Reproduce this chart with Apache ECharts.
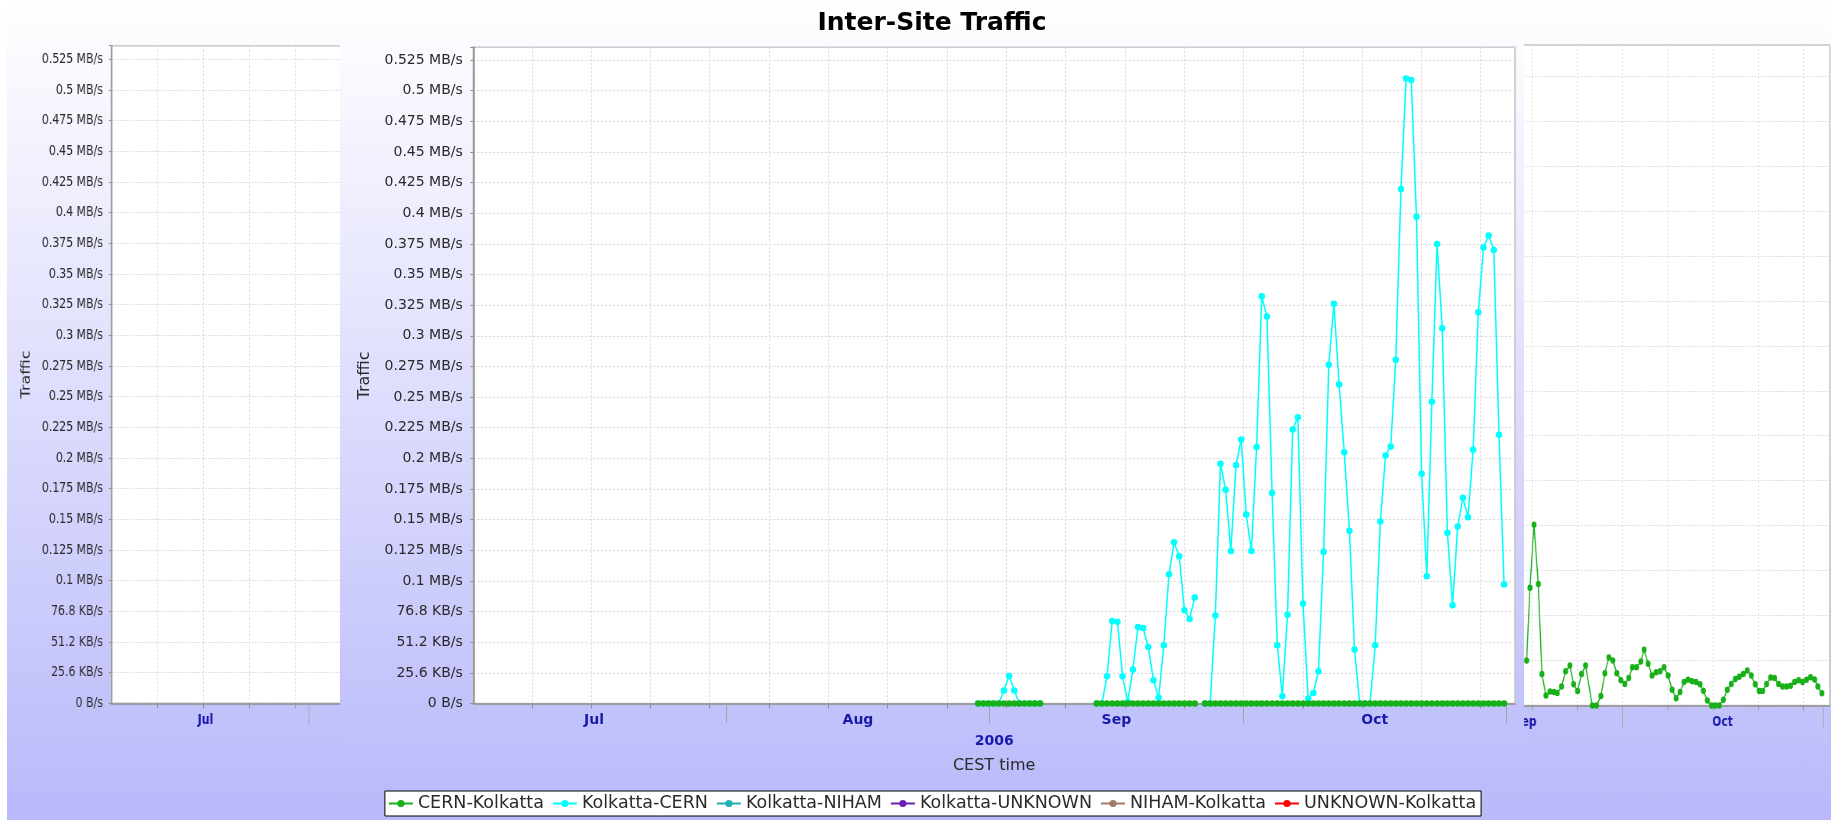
<!DOCTYPE html>
<html>
<head>
<meta charset="utf-8">
<script src="https://cdn.jsdelivr.net/npm/echarts@6/dist/echarts.min.js"></script>
<style>
html,body{margin:0;padding:0;background:#ffffff;width:1831px;height:820px;overflow:hidden;}
.clip{position:absolute;top:0;height:820px;overflow:hidden;}
.chart{position:absolute;top:0;height:820px;width:1184px;transform-origin:0 0;}
</style>
</head>
<body>
<!-- three overlapping captures of the same chart: a horizontally squeezed copy on the left,
     the full chart in the middle, and a squeezed CERN-Kolkatta-only copy on the right -->
<div class="clip" style="left:7px;width:333px"><div id="leftChart" class="chart" style="left:0;transform:scaleX(0.7813)"></div></div>
<div class="clip" style="left:340px;width:1184px"><div id="mainChart" class="chart" style="left:0"></div></div>
<div class="clip" style="left:1524px;width:307px"><div id="rightChart" class="chart" style="left:-592.4px;transform:scaleX(0.764)"></div></div>
<script>
// ---------------- DATA ----------------
// x values are days since 2006-07-01 00:00 (Jul 9 = 8, Aug 1 = 31, Sep 1 = 62, Oct 1 = 92, Nov 1 = 123)
const chartTitle = 'Inter-Site Traffic';
const seriesNames = ['CERN-Kolkatta', 'Kolkatta-CERN', 'Kolkatta-NIHAM', 'Kolkatta-UNKNOWN', 'NIHAM-Kolkatta', 'UNKNOWN-Kolkatta'];
const seriesColors = ['#18b018', '#00ffff', '#1fb0b0', '#6a1fb0', '#a07c66', '#ff0000'];

const monthNames = ['Jul', 'Aug', 'Sep', 'Oct'];
const monthLabelDays = [15.35, 46.5, 77, 107.5];
const monthStartDays = [31, 62, 92, 123];
const weekTickDays = [8, 15, 22, 29, 36, 43, 50, 57, 64, 71, 78, 85, 92, 99, 106, 113, 120];
const yearLabel = '2006';

const yTickLabels = ['0 B/s', '25.6 KB/s', '51.2 KB/s', '76.8 KB/s', '0.1 MB/s', '0.125 MB/s', '0.15 MB/s',
  '0.175 MB/s', '0.2 MB/s', '0.225 MB/s', '0.25 MB/s', '0.275 MB/s', '0.3 MB/s', '0.325 MB/s', '0.35 MB/s',
  '0.375 MB/s', '0.4 MB/s', '0.425 MB/s', '0.45 MB/s', '0.475 MB/s', '0.5 MB/s', '0.525 MB/s'];

// sample times (days) of the main chart series; null values are missing samples (gaps)
const sampleDays = [
  60.69, 61.30, 61.90, 62.51, 63.12, 63.73, 64.34, 64.95, 65.56, 66.16, 66.77, 67.38, 67.99, 68.60,
  74.68, 75.29, 75.90, 76.51, 77.12, 77.73, 78.34, 78.95, 79.55, 80.16, 80.77, 81.38, 81.99, 82.60,
  83.21, 83.81, 84.42, 85.03, 85.64, 86.25, 86.86, 87.47, 88.07, 88.68, 89.29, 89.90, 90.51, 91.12,
  91.73, 92.33, 92.94, 93.55, 94.16, 94.77, 95.38, 95.99, 96.59, 97.20, 97.81, 98.42, 99.03, 99.64,
  100.25, 100.85, 101.46, 102.07, 102.68, 103.29, 103.90, 104.51, 105.11, 105.72, 106.33, 106.94, 107.55,
  108.16, 108.77, 109.38, 109.98, 110.59, 111.20, 111.81, 112.42, 113.03, 113.64, 114.24, 114.85, 115.46,
  116.07, 116.68, 117.29, 117.90, 118.50, 119.11, 119.72, 120.33, 120.94, 121.55, 122.16, 122.76
];
// Kolkatta-CERN traffic, MB/s
const kolkattaCern = [
  0, 0, 0, 0, 0, 0.0106, 0.0225, 0.0106, 0, 0, 0, 0, 0, null,
  0, 0, 0.0223, 0.0673, 0.0668, 0.0223, 0.0015, 0.0277, 0.0624, 0.0616, 0.0461, 0.0190, 0.0046, 0.0475,
  0.1054, 0.1315, 0.1201, 0.0761, 0.0690, 0.0864, null, 0, 0, 0.0717, 0.1956, 0.1744, 0.1244, 0.1945,
  0.2155, 0.1543, 0.1244, 0.2092, 0.3323, 0.3157, 0.1717, 0.0475, 0.0060, 0.0725, 0.2236, 0.2336, 0.0815, 0.0041,
  0.0086, 0.0263, 0.1239, 0.2764, 0.3261, 0.2603, 0.2049, 0.1410, 0.0440, 0, 0, 0, 0.0475,
  0.1484, 0.2024, 0.2097, 0.2804, 0.4198, 0.5100, 0.5087, 0.3972, 0.1875, 0.1038, 0.2462, 0.3750, 0.3062,
  0.1394, 0.0801, 0.1445, 0.1679, 0.1519, 0.2071, 0.3192, 0.3720, 0.3818, 0.3701, 0.2193, 0.0970
];
// CERN-Kolkatta traffic at the main scale, MB/s
const cernKolkatta = [
  0, 0, 0, 0, 0, 0, 0, 0, 0, 0, 0, 0, 0, null,
  0, 0, 0, 0, 0, 0, 0, 0, 0, 0, 0, 0, 0, 0,
  0, 0, 0, 0, 0, 0, null, 0, 0, 0, 0, 0, 0, 0,
  0, 0, 0, 0, 0, 0, 0, 0, 0, 0, 0, 0, 0, 0,
  0, 0, 0, 0, 0, 0, 0, 0, 0, 0, 0, 0, 0,
  0, 0, 0, 0, 0, 0, 0, 0, 0, 0, 0, 0, 0,
  0, 0, 0, 0, 0, 0, 0, 0, 0, 0, 0, 0
];

// right-hand capture: CERN-Kolkatta alone on its own (unlabelled) scale, values in grid steps
const detailDays = [
  77.23, 77.74, 78.36, 79.03, 79.59, 80.21, 80.83, 81.45, 81.96, 82.63, 83.25, 83.91, 84.48, 85.10,
  85.71, 86.33, 87.36, 88.03, 88.70, 89.31, 89.93, 90.55, 91.16, 91.78, 92.40, 93.01, 93.58, 94.20,
  94.87, 95.38, 96.00, 96.61, 97.23, 97.85, 98.46, 99.08, 99.70, 100.32, 100.93, 101.55, 102.17, 102.78,
  103.40, 104.02, 104.53, 105.15, 105.77, 106.38, 107.00, 107.62, 108.23, 108.85, 109.47, 110.08, 110.70,
  111.32, 111.94, 112.55, 113.17, 113.68, 114.30, 114.92, 115.53, 116.15, 116.77, 117.39, 118.00, 118.62,
  119.24, 119.86, 120.47, 121.09, 121.71, 122.22, 122.84
];
const cernKolkattaDetail = [
  1.00, 2.62, 4.02, 2.70, 0.70, 0.22, 0.31, 0.30, 0.28, 0.42, 0.76, 0.89, 0.47, 0.32,
  0.70, 0.89, 0, 0, 0.21, 0.72, 1.07, 1.00, 0.72, 0.56, 0.48, 0.61, 0.85, 0.85,
  0.98, 1.24, 0.93, 0.67, 0.74, 0.76, 0.85, 0.67, 0.35, 0.16, 0.30, 0.52, 0.57, 0.54,
  0.52, 0.47, 0.33, 0.11, 0, 0, 0, 0.13, 0.35, 0.48, 0.59, 0.64, 0.70,
  0.78, 0.67, 0.47, 0.32, 0.32, 0.48, 0.62, 0.61, 0.48, 0.42, 0.42, 0.44, 0.52,
  0.56, 0.52, 0.57, 0.63, 0.58, 0.42, 0.27
];

// ---------------- STYLE ----------------
const FONT = 'DejaVu Sans';
const AXIS_GRAY = '#8e8e8e';
const GRID_LINE = '#d8d8d8';
const LABEL_BLUE = '#1a1aaa';
const TEXT = '#2a2a2a';
const Y_STEP = 0.025;
const X_MIN = 1.1, X_MAX = 124.05;

function bg() {
  return new echarts.graphic.LinearGradient(0, 0, 0, 1, [
    { offset: 0, color: '#ffffff' }, { offset: 1, color: '#b9b9fb' }
  ]);
}
function yLabel(v) {
  const i = Math.round(v / Y_STEP);
  return Math.abs(i * Y_STEP - v) < 1e-9 ? (yTickLabels[i] || '') : '';
}
function monthLabel(v) {
  const i = monthLabelDays.findIndex(d => Math.abs(d - v) < 1e-6);
  return i >= 0 ? monthNames[i] : '';
}
function pairs(xs, ys) { return xs.map((x, i) => [x, ys[i]]); }

function timeAxes(withName, sepOffset, sepLength) {
  const main = {
    type: 'value', gridIndex: 0, min: X_MIN, max: X_MAX, position: 'bottom',
    axisLine: { show: true, onZero: false, lineStyle: { color: AXIS_GRAY, width: 1.5 } },
    axisTick: { show: true, customValues: weekTickDays, length: 5, lineStyle: { color: AXIS_GRAY } },
    splitLine: { show: true, lineStyle: { color: GRID_LINE, type: [2, 2], width: 1 } },
    axisLabel: { customValues: monthLabelDays, formatter: monthLabel, color: LABEL_BLUE, fontWeight: 'bold',
      fontSize: 14, fontFamily: FONT, margin: 10 },
    nameMoveOverlap: false
  };
  if (withName) {
    main.name = 'CEST time';
    main.nameLocation = 'middle';
    main.nameGap = 54;
    main.nameTextStyle = { fontSize: 16, color: TEXT, fontFamily: FONT };
  }
  const sep = {
    type: 'value', gridIndex: 0, min: X_MIN, max: X_MAX, position: 'bottom', offset: sepOffset,
    axisLine: { show: false },
    axisTick: { show: true, customValues: monthStartDays, length: sepLength, lineStyle: { color: '#a4a4a4' } },
    splitLine: { show: false },
    axisLabel: { show: withName, customValues: [(X_MIN + X_MAX) / 2], formatter: () => yearLabel, color: LABEL_BLUE,
      fontWeight: 'bold', fontSize: 14, fontFamily: FONT, margin: 24 }
  };
  return [main, sep];
}
function trafficYAxis(max) {
  return {
    type: 'value', gridIndex: 0, min: 0, max, interval: Y_STEP,
    axisLine: { show: true, lineStyle: { color: AXIS_GRAY, width: 1.5 } },
    axisTick: { show: true, length: 3, lineStyle: { color: AXIS_GRAY } },
    axisLabel: { formatter: yLabel, color: TEXT, fontSize: 14, fontFamily: FONT, margin: 10.5 },
    splitLine: { show: true, lineStyle: { color: GRID_LINE, type: [2, 2], width: 1 } },
    name: 'Traffic', nameLocation: 'middle', nameGap: 100, nameMoveOverlap: false,
    nameTextStyle: { fontSize: 16, color: TEXT, fontFamily: FONT }
  };
}
function lineSeries(name, color, data, z) {
  return {
    name, type: 'line', xAxisIndex: 0, yAxisIndex: 0, data, z,
    symbol: 'circle', symbolSize: 6.5, showSymbol: true, connectNulls: false, clip: true,
    lineStyle: { width: 1.5, color }, itemStyle: { color }, emphasis: { disabled: true },
    animation: false
  };
}
function gridBox(top, height) {
  return { left: 133.3, top, width: 1041.7, height, show: true, backgroundColor: '#ffffff',
    borderColor: '#c4c4c4', borderWidth: 1.5, outerBoundsMode: 'none', containLabel: false };
}

// ---------------- LEFT (squeezed, mostly hidden) CAPTURE ----------------
const leftChart = echarts.init(document.getElementById('leftChart'), null, { renderer: 'canvas' });
leftChart.setOption({
  backgroundColor: bg(), animation: false,
  grid: gridBox(45.7, 657.6),
  xAxis: timeAxes(false, 5, 22),
  yAxis: [trafficYAxis(0.5361)],
  series: [
    lineSeries(seriesNames[1], seriesColors[1], pairs(sampleDays, kolkattaCern), 2),
    lineSeries(seriesNames[0], seriesColors[0], pairs(sampleDays, cernKolkatta), 3)
  ]
});

// ---------------- MAIN CAPTURE ----------------
const mainChart = echarts.init(document.getElementById('mainChart'), null, { renderer: 'canvas' });
const mainSeries = [
  lineSeries(seriesNames[0], seriesColors[0], pairs(sampleDays, cernKolkatta), 3),
  lineSeries(seriesNames[1], seriesColors[1], pairs(sampleDays, kolkattaCern), 2)
];
for (let i = 2; i < seriesNames.length; i++) mainSeries.push(lineSeries(seriesNames[i], seriesColors[i], [], 1));
mainChart.setOption({
  backgroundColor: bg(), animation: false,
  title: { text: chartTitle, left: 'center', top: 11, padding: 0,
    textStyle: { fontSize: 25, fontWeight: 'bold', color: '#000', fontFamily: FONT } },
  legend: {
    data: seriesNames, left: 'center', top: 791, orient: 'horizontal',
    backgroundColor: '#ffffff', borderColor: '#000000', borderWidth: 1, borderRadius: 0,
    padding: [3, 5, 3, 3], itemGap: 8, itemWidth: 24, itemHeight: 9,
    textStyle: { fontSize: 17.5, color: TEXT, fontFamily: FONT, lineHeight: 19 },
    selectedMode: false
  },
  grid: gridBox(47.3, 656.2),
  xAxis: timeAxes(true, 7, 19.5),
  yAxis: [trafficYAxis(0.5354)],
  series: mainSeries
});

// ---------------- RIGHT (squeezed, CERN-Kolkatta only) CAPTURE ----------------
const rightChart = echarts.init(document.getElementById('rightChart'), null, { renderer: 'canvas' });
rightChart.setOption({
  backgroundColor: bg(), animation: false,
  grid: gridBox(45, 660.5),
  xAxis: timeAxes(false, 2, 23),
  yAxis: [{
    type: 'value', min: 0, max: 14.69, interval: 1,
    axisLine: { show: false }, axisTick: { show: false }, axisLabel: { show: false },
    splitLine: { show: true, lineStyle: { color: GRID_LINE, type: [2, 2], width: 1 } }
  }],
  series: [lineSeries(seriesNames[0], seriesColors[0], pairs(detailDays, cernKolkattaDetail), 3)]
});
</script>
</body>
</html>
